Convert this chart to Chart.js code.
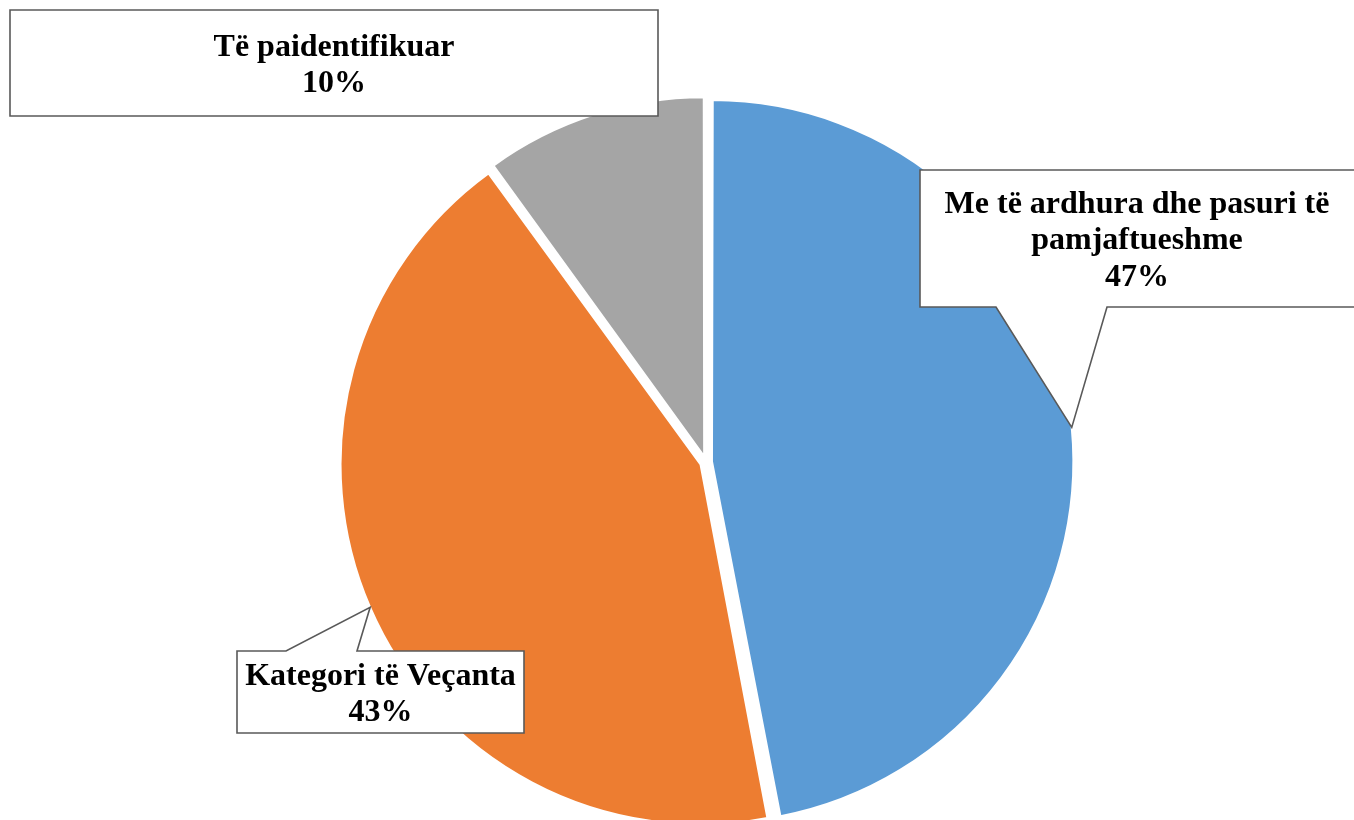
<!DOCTYPE html>
<html>
<head>
<meta charset="utf-8">
<script src="https://cdn.jsdelivr.net/npm/chart.js@4/dist/chart.umd.min.js"></script>
<style>
  html, body { margin: 0; padding: 0; background: #ffffff; }
  #wrap { width: 1354px; height: 820px; position: relative; }
</style>
</head>
<body>
<div id="wrap"><canvas id="c"></canvas></div>
<script>
// ---- data ----
const categories = ['Me të ardhura dhe pasuri të pamjaftueshme', 'Kategori të Veçanta', 'Të paidentifikuar'];
const shares = [47, 43, 10];
const percentLabels = ['47%', '43%', '10%'];
const sliceColors = ['#5B9BD5', '#ED7D31', '#A5A5A5'];

// ---- styling ----
const SLICE_OFFSET = 24; // Chart.js v4 translates each arc by offset/4
const calloutLayout = [
  { box: [920, 170, 1362, 307], edge: 'bottom', base: [996, 1107] },
  { box: [237, 651, 524, 733], edge: 'top', base: [286, 357] },
  { box: [10, 10, 658, 116], edge: null }
];

const FONT = 'bold 32px "Liberation Serif", "Times New Roman", serif';
const LINE_H = 36.5;
const CAP = 21.5;

function wrapText(ctx, text, maxW) {
  const words = text.split(' ');
  const lines = [];
  let cur = '';
  for (const w of words) {
    const t = cur ? cur + ' ' + w : w;
    if (ctx.measureText(t).width > maxW && cur) { lines.push(cur); cur = w; }
    else cur = t;
  }
  if (cur) lines.push(cur);
  return lines;
}

const calloutPlugin = {
  id: 'callouts',
  afterDraw(chart) {
    const ctx = chart.ctx;
    const meta = chart.getDatasetMeta(0);
    ctx.save();
    ctx.font = FONT;
    meta.data.forEach((arc, i) => {
      const L = calloutLayout[i];
      const [x1, y1, x2, y2] = L.box;
      const p = arc.getProps(['x', 'y', 'startAngle', 'endAngle', 'outerRadius', 'circumference'], true);
      const mid = (p.startAngle + p.endAngle) / 2;
      const tr = SLICE_OFFSET / 4;
      const fix = 1 - Math.sin(Math.min(Math.PI, p.circumference));
      const rr = p.outerRadius + tr + tr * fix;
      const tipX = p.x + Math.cos(mid) * rr;
      const tipY = p.y + Math.sin(mid) * rr;
      ctx.beginPath();
      ctx.moveTo(x1, y1);
      if (L.edge === 'top') {
        ctx.lineTo(L.base[0], y1);
        ctx.lineTo(tipX, tipY);
        ctx.lineTo(L.base[1], y1);
      }
      ctx.lineTo(x2, y1);
      ctx.lineTo(x2, y2);
      if (L.edge === 'bottom') {
        ctx.lineTo(L.base[1], y2);
        ctx.lineTo(tipX, tipY);
        ctx.lineTo(L.base[0], y2);
      }
      ctx.lineTo(x1, y2);
      ctx.closePath();
      ctx.fillStyle = '#ffffff';
      ctx.fill();
      ctx.lineWidth = 1.6;
      ctx.strokeStyle = '#595959';
      ctx.lineJoin = 'miter';
      ctx.stroke();

      const right = Math.min(x2, chart.width);
      const boxW = right - x1;
      const lines = wrapText(ctx, categories[i], boxW - 12);
      lines.push(percentLabels[i]);
      const cx = (x1 + right) / 2;
      const cy = (y1 + y2) / 2;
      const blockH = (lines.length - 1) * LINE_H + CAP;
      const by = cy - blockH / 2 + CAP;
      ctx.fillStyle = '#000000';
      ctx.textAlign = 'center';
      ctx.textBaseline = 'alphabetic';
      lines.forEach((ln, k) => ctx.fillText(ln, cx, by + k * LINE_H));
    });
    ctx.restore();
  }
};

new Chart(document.getElementById('c'), {
  type: 'pie',
  data: {
    labels: categories,
    datasets: [{
      data: shares,
      backgroundColor: sliceColors,
      borderColor: '#ffffff',
      borderWidth: 2,
      offset: SLICE_OFFSET,
      radius: 356.5,
      clip: false
    }]
  },
  options: {
    responsive: true,
    maintainAspectRatio: false,
    animation: false,
    layout: { padding: { left: 58, right: 0, top: 104, bottom: 0 } },
    plugins: { legend: { display: false }, tooltip: { enabled: false } }
  },
  plugins: [calloutPlugin]
});
</script>
</body>
</html>
